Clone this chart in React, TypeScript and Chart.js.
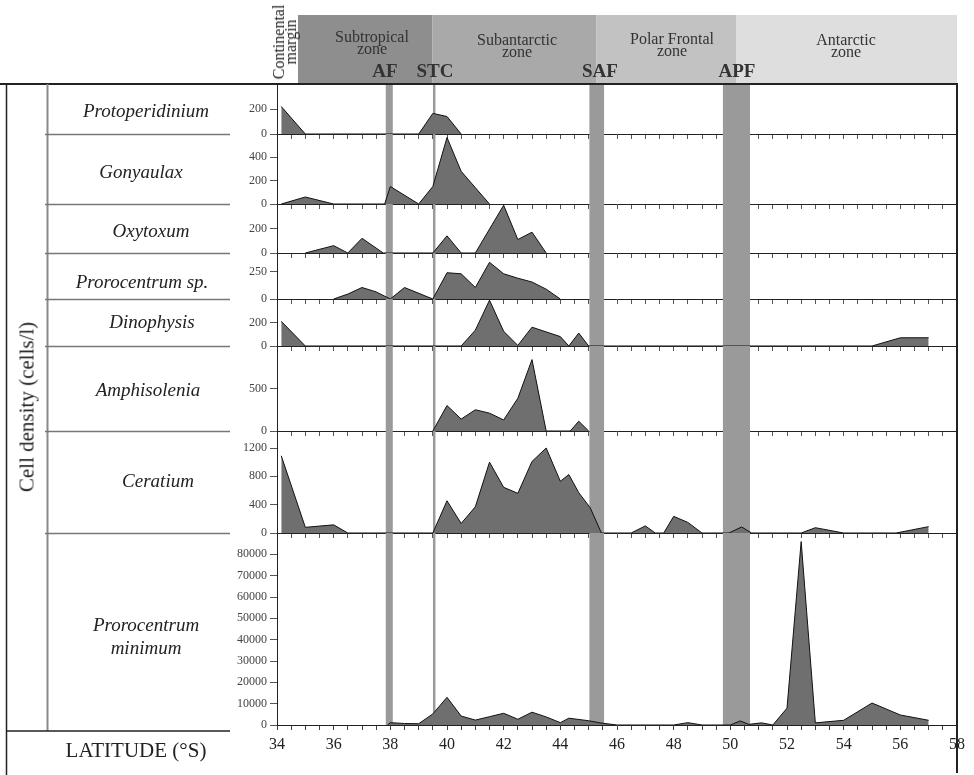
import React, { useEffect, useRef } from 'react';
import { Chart, registerables } from 'chart.js';

Chart.register(...registerables);

// ---------------- data ----------------
const LAT_MIN = 34;
const LAT_MAX = 58;
const X_TICK_LABELS = [34, 36, 38, 40, 42, 44, 46, 48, 50, 52, 54, 56, 58];

const PROTOPERIDINIUM_LAT = [34.15, 35, 39, 39.5, 40, 40.5];
const PROTOPERIDINIUM_VAL = [220, 0, 0, 165, 140, 0];
const PROTOPERIDINIUM_MAX = 400;
const PROTOPERIDINIUM_TICKS = [0, 200];

const GONYAULAX_LAT = [34.15, 35, 36, 37.8, 38, 39, 39.5, 40, 40.5, 41, 41.5];
const GONYAULAX_VAL = [0, 60, 0, 0, 150, 0, 150, 570, 280, 140, 0];
const GONYAULAX_MAX = 600;
const GONYAULAX_TICKS = [0, 200, 400];

const OXYTOXUM_LAT = [35, 36, 36.5, 37, 37.75, 39.5, 40, 40.5, 41, 42, 42.5, 43, 43.5];
const OXYTOXUM_VAL = [0, 60, 0, 120, 0, 0, 140, 0, 0, 390, 110, 170, 0];
const OXYTOXUM_MAX = 400;
const OXYTOXUM_TICKS = [0, 200];

const PROROCENTRUM_SP_LAT = [36, 36.5, 37, 37.5, 38, 38.5, 39.5, 40, 40.5, 41, 41.5, 42, 42.5, 43, 43.5, 44];
const PROROCENTRUM_SP_VAL = [0, 45, 105, 65, 0, 105, 0, 240, 230, 105, 335, 230, 190, 155, 90, 0];
const PROROCENTRUM_SP_MAX = 420;
const PROROCENTRUM_SP_TICKS = [0, 250];

const DINOPHYSIS_LAT = [34.15, 35, 40.5, 41, 41.5, 42, 42.5, 43, 44, 44.3, 44.65, 45, 55, 56, 57];
const DINOPHYSIS_VAL = [210, 0, 0, 135, 390, 125, 5, 160, 80, 0, 110, 0, 0, 70, 70];
const DINOPHYSIS_MAX = 400;
const DINOPHYSIS_TICKS = [0, 200];

const AMPHISOLENIA_LAT = [39.5, 40, 40.5, 41, 41.5, 42, 42.5, 43, 43.5, 44.35, 44.65, 45];
const AMPHISOLENIA_VAL = [0, 300, 140, 250, 210, 130, 385, 840, 0, 0, 115, 0];
const AMPHISOLENIA_MAX = 1000;
const AMPHISOLENIA_TICKS = [0, 500];

const CERATIUM_LAT = [34.15, 35, 36, 36.5, 39.5, 40, 40.5, 41, 41.5, 42, 42.5, 43, 43.5, 44, 44.3, 44.65, 45.05, 45.45,
  46.5, 47, 47.35, 47.65, 48, 48.5, 49, 49.95, 50.4, 50.75, 52.5, 53, 54, 55.85, 57];
const CERATIUM_VAL = [1090, 80, 115, 0, 0, 455, 135, 370, 1000, 645, 560, 1010, 1200, 730, 825, 570, 360, 0,
  0, 100, 0, 0, 235, 150, 0, 0, 85, 0, 0, 75, 0, 0, 90];
const CERATIUM_MAX = 1440;
const CERATIUM_TICKS = [0, 400, 800, 1200];

const P_MINIMUM_LAT = [37.9, 38, 38.5, 39, 39.5, 40, 40.5, 41, 41.5, 42, 42.5, 43, 43.5, 44, 44.3, 45, 45.4, 46,
  48, 48.5, 49, 50, 50.35, 50.65, 51.1, 51.5, 52, 52.5, 53, 54, 55, 56, 57];
const P_MINIMUM_VAL = [0, 1100, 700, 600, 5200, 13000, 4200, 2300, 3900, 5500, 2700, 6000, 3800, 1100, 3200, 2000, 1000, 0,
  0, 1100, 0, 0, 1900, 300, 1000, 0, 7900, 86000, 1000, 2200, 10300, 4700, 2200];
const P_MINIMUM_MAX = 90000;
const P_MINIMUM_TICKS = [0, 10000, 20000, 30000, 40000, 50000, 60000, 70000, 80000];

const FRONT_NAMES = ['AF', 'STC', 'SAF', 'APF'];
const FRONT_FROM = [37.83, 39.5, 45.02, 49.73];
const FRONT_TO = [38.09, 39.6, 45.55, 50.7];

const ZONE_NAMES = ['Subtropical', 'Subantarctic', 'Polar Frontal', 'Antarctic'];
const ZONE_FROM = [34.74, 39.48, 45.28, 50.2];
const ZONE_TO = [39.48, 45.28, 50.2, 58];

// ---------------- styles / layout ----------------
const FONT = "'Liberation Serif', 'Times New Roman', serif";
const ZONE_COLORS = ['#8e8e8e', '#a9a9a9', '#c2c2c2', '#dedede'];
const FRONT_COLOR = '#9a9a9a';
const AREA_FILL = '#6f6f6f';
const PANEL_HEIGHTS = [50, 70, 49, 46, 47, 85, 102, 192];

const PANELS = [
  { lat: PROTOPERIDINIUM_LAT, val: PROTOPERIDINIUM_VAL, max: PROTOPERIDINIUM_MAX, ticks: PROTOPERIDINIUM_TICKS },
  { lat: GONYAULAX_LAT, val: GONYAULAX_VAL, max: GONYAULAX_MAX, ticks: GONYAULAX_TICKS },
  { lat: OXYTOXUM_LAT, val: OXYTOXUM_VAL, max: OXYTOXUM_MAX, ticks: OXYTOXUM_TICKS },
  { lat: PROROCENTRUM_SP_LAT, val: PROROCENTRUM_SP_VAL, max: PROROCENTRUM_SP_MAX, ticks: PROROCENTRUM_SP_TICKS },
  { lat: DINOPHYSIS_LAT, val: DINOPHYSIS_VAL, max: DINOPHYSIS_MAX, ticks: DINOPHYSIS_TICKS },
  { lat: AMPHISOLENIA_LAT, val: AMPHISOLENIA_VAL, max: AMPHISOLENIA_MAX, ticks: AMPHISOLENIA_TICKS },
  { lat: CERATIUM_LAT, val: CERATIUM_VAL, max: CERATIUM_MAX, ticks: CERATIUM_TICKS },
  { lat: P_MINIMUM_LAT, val: P_MINIMUM_VAL, max: P_MINIMUM_MAX, ticks: P_MINIMUM_TICKS },
];

function buildConfig(): any {
  const n = PANELS.length;
  const scales: any = {
    x: {
      type: 'linear',
      position: 'bottom',
      min: LAT_MIN,
      max: LAT_MAX,
      afterFit: (s: any) => { s.height = 50; },
      ticks: {
        stepSize: 0.5,
        maxTicksLimit: 100,
        autoSkip: false,
        maxRotation: 0,
        padding: 5,
        color: '#222',
        font: { family: FONT, size: 16 },
        callback: (v: any) => (X_TICK_LABELS.includes(Number(v)) ? String(v) : ''),
      },
      grid: { drawOnChartArea: false, tickLength: 5, tickColor: '#444' },
      border: { display: true, color: '#222', width: 1 },
    },
    yfull: { type: 'linear', display: false, min: 0, max: 1, position: 'left' },
  };
  PANELS.forEach((p, i) => {
    scales['y' + i] = {
      type: 'linear',
      axis: 'y',
      position: 'left',
      stack: 'panels',
      stackWeight: PANEL_HEIGHTS[i],
      weight: n - i,
      min: 0,
      max: p.max,
      afterFit: (s: any) => { s.width = 277; },
      afterBuildTicks: (s: any) => { s.ticks = p.ticks.map((v) => ({ value: v })); },
      ticks: {
        autoSkip: false,
        color: '#444',
        padding: 3,
        font: { family: FONT, size: 12 },
        callback: (v: any) => String(v),
      },
      grid: { drawOnChartArea: false, tickLength: 7, tickColor: '#555' },
      border: { display: true, color: '#222', width: 1 },
    };
    if (i < n - 1) {
      scales['xp' + i] = {
        type: 'linear',
        axis: 'x',
        position: { ['y' + i]: 0 },
        min: LAT_MIN,
        max: LAT_MAX,
        z: 1,
        afterFit: (s: any) => { s.height = 0; },
        ticks: { display: false, stepSize: 0.5, maxTicksLimit: 100 },
        grid: { drawOnChartArea: false, tickLength: 4, tickColor: '#555' },
        border: { display: true, color: '#222', width: 1 },
      };
    }
  });

  const datasets: any[] = [];
  PANELS.forEach((p, i) => {
    datasets.push({
      type: 'line',
      data: p.lat.map((x, k) => ({ x, y: p.val[k] })),
      xAxisID: 'x',
      yAxisID: 'y' + i,
      fill: 'origin',
      backgroundColor: AREA_FILL,
      borderColor: '#111',
      borderWidth: 1,
      pointRadius: 0,
      tension: 0,
      order: 0,
    });
  });
  FRONT_NAMES.forEach((_, i) => {
    datasets.push({
      type: 'line',
      data: [{ x: FRONT_FROM[i], y: 1 }, { x: FRONT_TO[i], y: 1 }],
      xAxisID: 'x',
      yAxisID: 'yfull',
      fill: 'origin',
      backgroundColor: FRONT_COLOR,
      borderColor: 'rgba(0,0,0,0)',
      borderWidth: 0,
      pointRadius: 0,
      order: 10,
    });
  });

  const decor = {
    id: 'decor',
    beforeDraw(chart: any) {
      const { ctx, chartArea, scales: sc } = chart;
      const xs = sc.x;
      ctx.save();
      ZONE_FROM.forEach((f, i) => {
        const x0 = xs.getPixelForValue(f);
        const x1 = xs.getPixelForValue(ZONE_TO[i]);
        ctx.fillStyle = ZONE_COLORS[i];
        ctx.fillRect(x0, 15, x1 - x0, chartArea.top - 15);
      });
      ctx.restore();
    },
    afterDraw(chart: any) {
      const { ctx, chartArea, scales: sc } = chart;
      ctx.save();
      const line = (x1: number, y1: number, x2: number, y2: number, color: string, w: number) => {
        ctx.beginPath();
        ctx.strokeStyle = color;
        ctx.lineWidth = w;
        ctx.moveTo(x1, y1);
        ctx.lineTo(x2, y2);
        ctx.stroke();
      };
      // frame
      line(0, chartArea.top, chartArea.right + 1, chartArea.top, '#222', 2);
      line(chartArea.right, chartArea.top, chartArea.right, 773, '#222', 2);
      // left table
      line(6.5, chartArea.top, 6.5, 775, '#222', 1.5);
      line(47.5, chartArea.top, 47.5, 731, '#8a8a8a', 2);
      line(6, 731, 230, 731, '#222', 1.5);
      for (let i = 0; i < PANELS.length - 1; i++) {
        const y = Math.round(sc['y' + i].bottom) + 0.5;
        line(45, y, 230, y, '#777', 1.5);
      }
      ctx.restore();
    },
  };

  return {
    type: 'line',
    data: { datasets },
    options: {
      responsive: false,
      animation: false,
      devicePixelRatio: 1,
      layout: { padding: { top: 84, right: 17, bottom: 0, left: 0 } },
      plugins: { legend: { display: false }, tooltip: { enabled: false } },
      scales,
    },
    plugins: [decor],
  };
}

const Txt = ({ x, y, size, style, children }: any) => (
  <div
    style={{
      position: 'absolute',
      left: x,
      top: y,
      transform: 'translate(-50%, -50%)',
      fontSize: size,
      lineHeight: 1,
      whiteSpace: 'nowrap',
      textAlign: 'center',
      ...style,
    }}
  >
    {children}
  </div>
);

const GENUS_POS = [
  { t: 'Protoperidinium', x: 146, y: 110 },
  { t: 'Gonyaulax', x: 141, y: 171 },
  { t: 'Oxytoxum', x: 151, y: 230 },
  { t: 'Prorocentrum sp.', x: 142, y: 281 },
  { t: 'Dinophysis', x: 152, y: 321 },
  { t: 'Amphisolenia', x: 148, y: 389 },
  { t: 'Ceratium', x: 158, y: 480 },
];

const ZONE_POS = [
  { x: 372, y: 43 },
  { x: 517, y: 46 },
  { x: 672, y: 45 },
  { x: 846, y: 46 },
];
const FRONT_POS = [
  { x: 385, y: 70 },
  { x: 435, y: 70 },
  { x: 600, y: 70 },
  { x: 737, y: 70 },
];

export default function App() {
  const ref = useRef<HTMLCanvasElement>(null);
  useEffect(() => {
    const chart = new Chart(ref.current as HTMLCanvasElement, buildConfig());
    return () => chart.destroy();
  }, []);
  return (
    <div
      style={{
        position: 'absolute',
        left: 0,
        top: 0,
        width: 974,
        height: 775,
        background: '#fff',
        overflow: 'hidden',
        fontFamily: FONT,
        color: '#222',
      }}
    >
      <canvas
        ref={ref}
        width={974}
        height={775}
        style={{ position: 'absolute', left: 0, top: 0, width: 974, height: 775 }}
      />
      {ZONE_NAMES.map((z, i) => (
        <Txt key={z} x={ZONE_POS[i].x} y={ZONE_POS[i].y} size={16} style={{ lineHeight: '12px', color: '#333' }}>
          {z}
          <br />
          zone
        </Txt>
      ))}
      {FRONT_NAMES.map((f, i) => (
        <Txt key={f} x={FRONT_POS[i].x} y={FRONT_POS[i].y} size={19} style={{ fontWeight: 'bold', color: '#333' }}>
          {f}
        </Txt>
      ))}
      <Txt
        x={285}
        y={42}
        size={16}
        style={{ transform: 'translate(-50%, -50%) rotate(-90deg)', lineHeight: '12px', color: '#222' }}
      >
        Continental
        <br />
        margin
      </Txt>
      {GENUS_POS.map((g) => (
        <Txt key={g.t} x={g.x} y={g.y} size={19} style={{ fontStyle: 'italic' }}>
          {g.t}
        </Txt>
      ))}
      <Txt x={146} y={636} size={19} style={{ fontStyle: 'italic', lineHeight: '23px' }}>
        Prorocentrum
        <br />
        minimum
      </Txt>
      <Txt x={27} y={407} size={21} style={{ transform: 'translate(-50%, -50%) rotate(-90deg)' }}>
        Cell density (cells/l)
      </Txt>
      <Txt x={136} y={750} size={21}>
        LATITUDE (°S)
      </Txt>
    </div>
  );
}
